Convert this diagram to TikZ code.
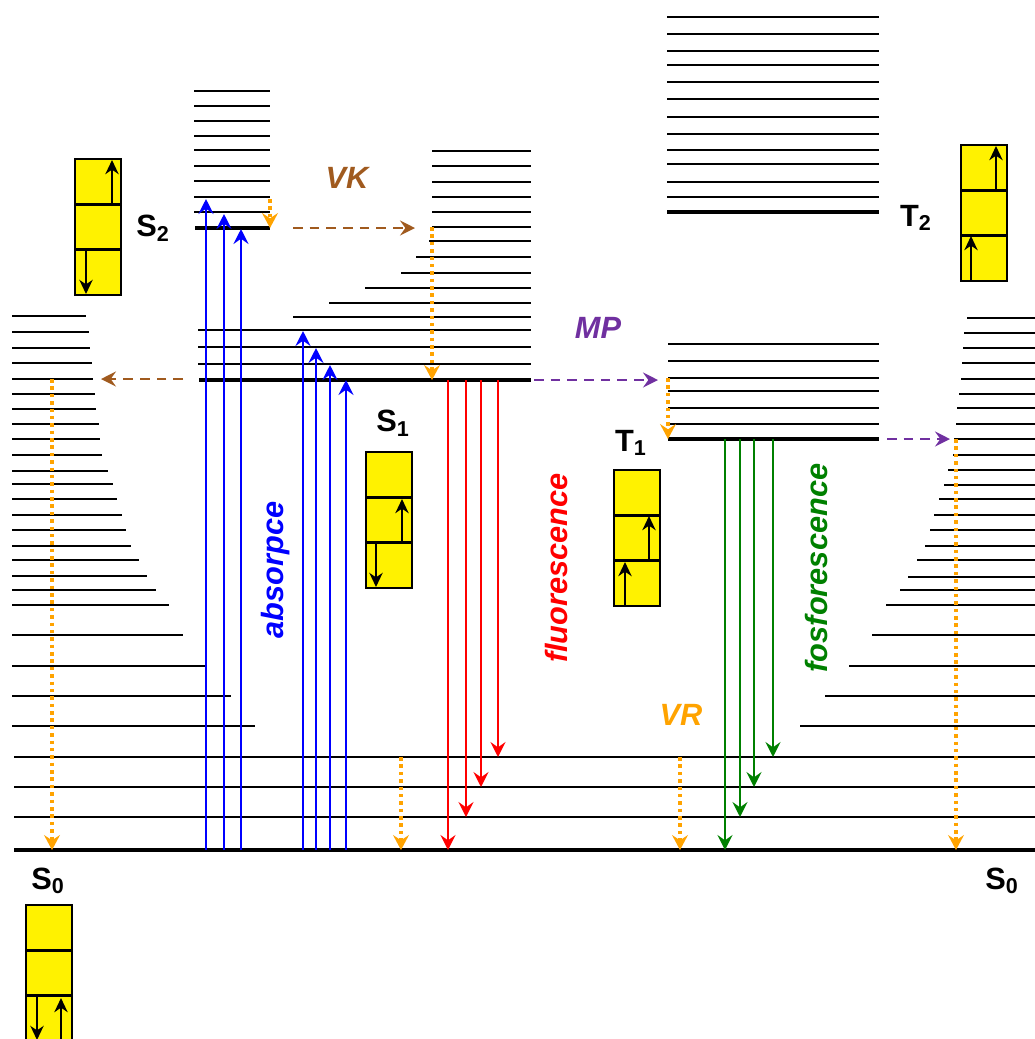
\documentclass[tikz,border=0pt]{standalone}
\usepackage{fontspec}
\setmainfont{Liberation Sans}
\usetikzlibrary{arrows.meta}

\definecolor{vkbrown}{RGB}{160,90,30}
\definecolor{mppurple}{RGB}{112,48,160}
\definecolor{vrorange}{RGB}{255,163,0}
\definecolor{fosgreen}{RGB}{0,128,0}

\tikzset{
  level/.style={line width=1.5pt},
  ground/.style={line width=2.3pt},
  tr/.style={line width=1.4pt,-{Stealth[length=8.5pt,width=8.5pt,inset=3pt]}},
  vrarrow/.style={vrorange,line width=2.1pt,dash pattern=on 2pt off 2.2pt,
    -{Stealth[length=8.5pt,width=9pt,inset=3pt]}},
  iscarrow/.style={line width=1.6pt,dash pattern=on 5.5pt off 4pt,
    -{Stealth[length=8.5pt,width=8.5pt,inset=3pt]}},
  lab/.style={font=\fontsize{17.5}{20}\selectfont\bfseries},
  ilab/.style={font=\fontsize{17.5}{20}\selectfont\bfseries\itshape},
  orb/.style={draw=black,fill=yellow,line width=1.4pt},
  spin/.style={line width=1.4pt,-{Stealth[length=8pt,width=7.5pt,inset=2.5pt]}}
}
% orbital box, top left corner in px
\newcommand{\orbbox}[2]{%
  \draw[orb] (#1,#2) rectangle ++(46,136);
  \draw[orb] (#1,#2+45.3) -- ++(46,0) (#1,#2+90.7) -- ++(46,0);}

\begin{document}
\begin{tikzpicture}[x=0.02cm,y=-0.02cm]
\clip (0,0) rectangle (1035,1039);
% S0 well
\foreach \yy/\xe in {316/86,332/89,348/90,363/92,379/93,394/95,409/96,424/99,
  439/100,455/102,471/108,484/113,499/117,515/122,530/126,546/131,560/139,
  576/147,590/156,605/169,635/183,666/206,696/231,726/255}
  \draw[level] (12,\yy) -- (\xe,\yy);
\foreach \yy/\xs in {318/967,333/964,348/963,363/962,379/961,394/959,408/957,
  424/956,439/954,455/953,470/948,485/944,499/939,515/934,530/930,546/925,
  560/917,577/908,590/900,605/886,635/872,666/849,696/825,726/800}
  \draw[level] (\xs,\yy) -- (1035,\yy);
\foreach \yy in {757,787,817}
  \draw[level] (14,\yy) -- (1035,\yy);
\draw[ground] (14,850) -- (1035,850);
% S2
\foreach \yy in {91,106,121,136,150,166,181,197,212}
  \draw[level] (194,\yy) -- (270,\yy);
\draw[ground] (195,228) -- (270,228);
% S1
\foreach \yy/\xs in {151/432,166/432,182/432,197/432,212/432,227/432,241/429,
  257/416,273/401,288/365,303/329,317/293,330/198,347/198,364/198}
  \draw[level] (\xs,\yy) -- (531,\yy);
\draw[ground] (199,380) -- (531,380);
% T1, T2
\foreach \yy in {344,361,378,391,408,424}
  \draw[level] (668,\yy) -- (879,\yy);
\draw[ground] (668,439) -- (879,439);
\foreach \yy in {17,34,51,65,82,99,117,134,150,164,182,197}
  \draw[level] (667,\yy) -- (879,\yy);
\draw[ground] (667,212) -- (879,212);
% absorpce
\foreach \xx/\yt in {206/199,224/214,241/229,303/331,316/348,330/365,346/380}
  \draw[tr,blue] (\xx,850) -- (\xx,\yt);
% fluorescence, fosforescence
\foreach \xx/\yb in {448/850,466/817,481/787,498/757}
  \draw[tr,red] (\xx,380) -- (\xx,\yb);
\foreach \xx/\yb in {725/850,740/817,754/787,773/757}
  \draw[tr,fosgreen] (\xx,439) -- (\xx,\yb);
% VR
\draw[vrarrow] (270,199) -- (270,228);
\draw[vrarrow] (432,227) -- (432,380);
\draw[vrarrow] (668,378) -- (668,439);
\draw[vrarrow] (52,379) -- (52,850);
\draw[vrarrow] (401,757) -- (401,850);
\draw[vrarrow] (680,757) -- (680,850);
\draw[vrarrow] (956,439) -- (956,850);
% VK, MP
\draw[iscarrow,vkbrown] (293,228) -- (415,228);
\draw[iscarrow,vkbrown] (183,379) -- (101,379);
\draw[iscarrow,mppurple] (534,380) -- (658,380);
\draw[iscarrow,mppurple] (887,439) -- (950,439);
% orbitals
\orbbox{75}{159}
\draw[spin] (112,204) -- (112,160);
\draw[spin] (86,250) -- (86,294);
\orbbox{366}{452}
\draw[spin] (402,543) -- (402,499);
\draw[spin] (376,543) -- (376,587);
\orbbox{614}{470}
\draw[spin] (649,560) -- (649,516);
\draw[spin] (625,606) -- (625,562);
\orbbox{961}{145}
\draw[spin] (996,190) -- (996,146);
\draw[spin] (971,281) -- (971,236);
\orbbox{26}{905}
\draw[spin] (37,996) -- (37,1040);
\draw[spin] (61,1045) -- (61,998);
% labels
\node[lab] (s2) at (153,228) {S\textsubscript{2}};
\node[lab] (s1) at (393,423) {S\textsubscript{1}};
\node[lab] (t1) at (631,443) {T\textsubscript{1}};
\node[lab] (t2) at (916,218) {T\textsubscript{2}};
\node[lab] (s0l) at (48,881) {S\textsubscript{0}};
\node[lab] (s0r) at (1002,881) {S\textsubscript{0}};
\node[ilab,vkbrown] (vk) at (347,178) {VK};
\node[ilab,mppurple] (mp) at (598,328) {MP};
\node[ilab,vrorange] (vr) at (681,715) {VR};
\node[ilab,blue,rotate=90] (abs) at (276,570) {absorpce};
\node[ilab,red,rotate=90] (flu) at (557,568) {fluorescence};
\node[ilab,fosgreen,rotate=90] (fos) at (817,568) {fosforescence};
\end{tikzpicture}
\end{document}
